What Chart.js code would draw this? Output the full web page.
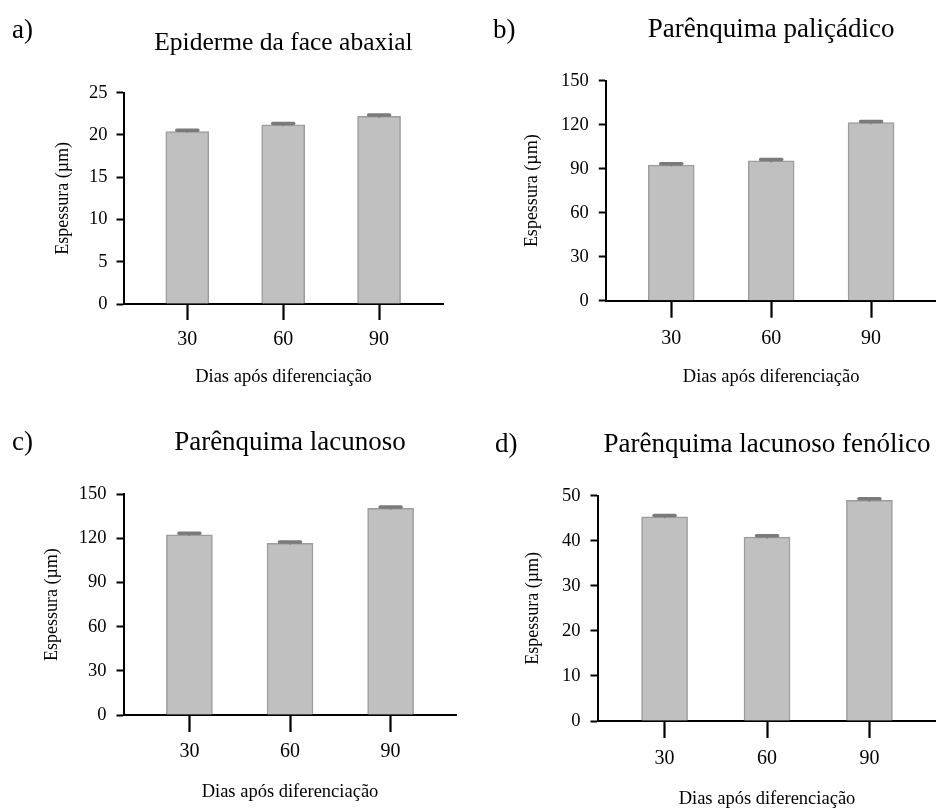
<!DOCTYPE html>
<html>
<head>
<meta charset="utf-8">
<script src="https://cdn.jsdelivr.net/npm/chart.js@4/dist/chart.umd.min.js"></script>
<style>
  html, body { margin: 0; padding: 0; background: #fff; }
  #wrap { position: relative; width: 936px; height: 809px; overflow: hidden; background: #fff; }
  canvas { position: absolute; }
  .txt { position: absolute; height: 0; line-height: 0; white-space: nowrap; font-family: 'Liberation Serif', 'Times New Roman', serif; color: #000; }
</style>
</head>
<body>
<div id="wrap"></div>
<script>
// ---------- data ----------
const categories = [30, 60, 90];
const tickLabels = ['30', '60', '90'];
const xAxisTitle = 'Dias após diferenciação';
const yAxisTitle = 'Espessura (µm)';

const panelLetters = ['a)', 'b)', 'c)', 'd)'];
const panelTitles = ['Epiderme da face abaxial', 'Parênquima paliçádico', 'Parênquima lacunoso', 'Parênquima lacunoso fenólico'];

const epidermeAbaxial = [20.4, 21.2, 22.2];
const epidermeAbaxialErr = [0.15, 0.15, 0.15];

const parenquimaPalicadico = [92.4, 95.3, 121.4];
const parenquimaPalicadicoErr = [0.9, 0.9, 0.8];

const parenquimaLacunoso = [122.5, 116.7, 140.5];
const parenquimaLacunosoErr = [1.0, 0.8, 0.8];

const parenquimaLacunosoFenolico = [45.3, 40.8, 49.0];
const parenquimaLacunosoFenolicoErr = [0.3, 0.3, 0.3];

const yTickMax = [25, 150, 150, 50];
const yTickStep = [5, 30, 30, 10];

// ---------- layout ----------
const FONT = "'Liberation Serif', 'Times New Roman', serif";
const panels = [
  { values: epidermeAbaxial, errs: epidermeAbaxialErr, cx: 0, cy: 0, w: 468, h: 400,
    left: 124, right: 443, top: 92.7, bottom: 304, xMin: 10.2, xMax: 110, bar: 43,
    yPad: 9, xPad: 8.2, xTick: 16, yTitlePad: 54, xTitlePad: 13.9,
    titleSize: 25.5, titleBase: 50.7, letterX: 12, letterBase: 38.3 },
  { values: parenquimaPalicadico, errs: parenquimaPalicadicoErr, cx: 468, cy: 0, w: 468, h: 400,
    left: 138.3, right: 468, top: 80.7, bottom: 300.7, xMin: 10.5, xMax: 109.5, bar: 46,
    yPad: 10, xPad: 9, xTick: 17, yTitlePad: 55, xTitlePad: 13.9,
    titleSize: 27, titleBase: 37.3, letterX: 493, letterBase: 38.3 },
  { values: parenquimaLacunoso, errs: parenquimaLacunosoErr, cx: 0, cy: 400, w: 468, h: 409,
    left: 124, right: 456, top: 94.3, bottom: 315, xMin: 10.5, xMax: 109.5, bar: 46,
    yPad: 10, xPad: 7.8, xTick: 17, yTitlePad: 43, xTitlePad: 7.4,
    titleSize: 27, titleBase: 450, letterX: 12, letterBase: 450 },
  { values: parenquimaLacunosoFenolico, errs: parenquimaLacunosoFenolicoErr, cx: 468, cy: 400, w: 468, h: 409,
    left: 130, right: 468, top: 95.7, bottom: 321, xMin: 10.5, xMax: 109.5, bar: 46,
    yPad: 10, xPad: 8.7, xTick: 17, yTitlePad: 56.4, xTitlePad: 0.9,
    titleSize: 27, titleBase: 451.7, letterX: 495, letterBase: 451.7 }
];

const wrap = document.getElementById('wrap');

function addText(str, size, baseline, left, width, align) {
  const d = document.createElement('div');
  d.className = 'txt';
  d.textContent = str;
  d.style.fontSize = size + 'px';
  d.style.top = (baseline - 0.3375 * size) + 'px';
  d.style.left = left + 'px';
  if (width) { d.style.width = width + 'px'; d.style.textAlign = align || 'center'; }
  wrap.appendChild(d);
}

const errorBarPlugin = {
  id: 'errorBars',
  afterDatasetsDraw(chart, args, opts) {
    const ctx = chart.ctx;
    const y = chart.scales.y;
    const meta = chart.getDatasetMeta(0);
    const ds = chart.data.datasets[0];
    ctx.save();
    meta.data.forEach((el, i) => {
      const v = ds.data[i].y;
      const e = ds.errs[i];
      const yTop = y.getPixelForValue(v + e);
      const yBot = y.getPixelForValue(v - e);
      ctx.strokeStyle = '#7a7a7a';
      ctx.lineWidth = 1;
      ctx.beginPath();
      ctx.moveTo(el.x, yBot);
      ctx.lineTo(el.x, yTop);
      ctx.stroke();
      ctx.lineWidth = 3.5;
      ctx.lineCap = 'round';
      ctx.beginPath();
      ctx.moveTo(el.x - 10.5, yTop);
      ctx.lineTo(el.x + 10.5, yTop);
      ctx.stroke();
    });
    ctx.restore();
  }
};

panels.forEach((p, idx) => {
  const c = document.createElement('canvas');
  c.width = p.w; c.height = p.h;
  c.style.left = p.cx + 'px'; c.style.top = p.cy + 'px';
  c.style.width = p.w + 'px'; c.style.height = p.h + 'px';
  wrap.appendChild(c);

  // titles
  addText(panelLetters[idx], 27, p.letterBase, p.letterX);
  addText(panelTitles[idx], p.titleSize, p.titleBase, p.cx + p.left - 100, (p.right - p.left) + 200, 'center');

  new Chart(c, {
    type: 'bar',
    data: {
      datasets: [{
        data: categories.map((x, i) => ({ x: x, y: p.values[i] })),
        errs: p.errs,
        backgroundColor: '#c0c0c0',
        borderColor: '#9c9c9c',
        borderWidth: 1.5,
        barThickness: p.bar
      }]
    },
    options: {
      responsive: false,
      animation: false,
      devicePixelRatio: 1,
      layout: { padding: { left: 0, right: p.w - p.right, top: p.top, bottom: 0 } },
      plugins: { legend: { display: false }, tooltip: { enabled: false }, title: { display: false } },
      scales: {
        x: {
          type: 'linear',
          offset: false,
          min: p.xMin, max: p.xMax,
          afterBuildTicks: (s) => { s.ticks = categories.map(v => ({ value: v })); },
          afterFit: (s) => { s.height = p.h - p.bottom; },
          ticks: {
            autoSkip: false, maxRotation: 0,
            padding: p.xPad,
            color: '#000',
            font: { family: FONT, size: 20, lineHeight: 1.2 },
            callback: (v) => tickLabels[categories.indexOf(v)]
          },
          grid: { display: true, offset: false, drawOnChartArea: false, drawTicks: true, tickLength: p.xTick, tickWidth: 2.2, tickColor: '#000', color: '#000' },
          border: { display: true, color: '#000', width: 2 },
          title: { display: true, text: xAxisTitle, color: '#000', font: { family: FONT, size: 18.5, lineHeight: 1 }, padding: { top: 0, bottom: p.xTitlePad } }
        },
        y: {
          min: 0, max: yTickMax[idx],
          afterFit: (s) => { s.width = p.left; },
          ticks: { stepSize: yTickStep[idx], padding: p.yPad, color: '#000', font: { family: FONT, size: 18.5, lineHeight: 1.2 } },
          grid: { display: true, drawOnChartArea: false, drawTicks: true, tickLength: 7.5, tickWidth: 2, tickColor: '#000', color: '#000' },
          border: { display: true, color: '#000', width: 2 },
          title: { display: true, text: yAxisTitle, color: '#000', font: { family: FONT, size: 18, lineHeight: 1 }, padding: { top: p.yTitlePad, bottom: 0 } }
        }
      }
    },
    plugins: [errorBarPlugin]
  });
});
</script>
</body>
</html>
